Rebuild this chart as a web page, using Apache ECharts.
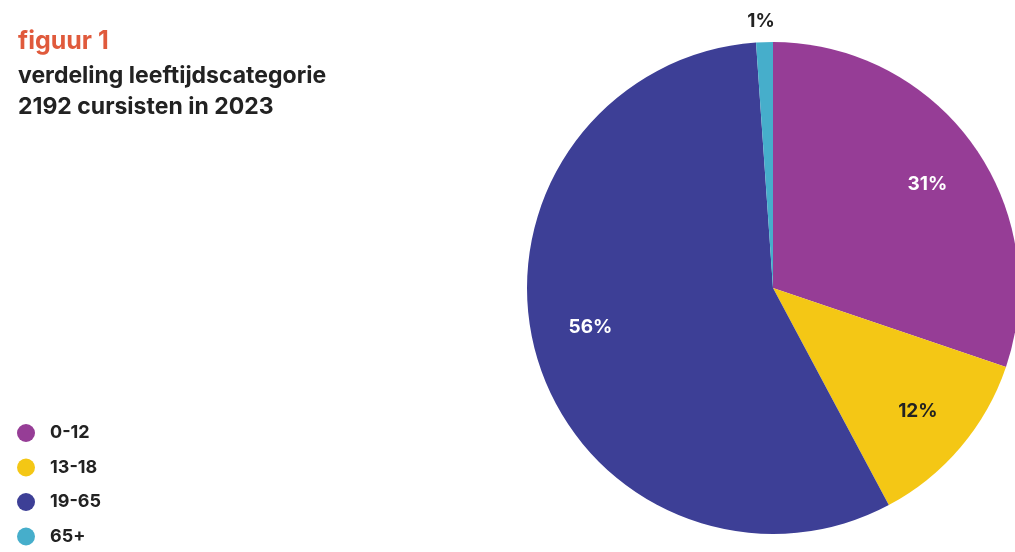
<!DOCTYPE html>
<html>
<head>
<meta charset="utf-8">
<script src="https://cdn.jsdelivr.net/npm/echarts@6/dist/echarts.min.js"></script>
<style>
html,body{margin:0;padding:0;background:#fff;}
#chart{width:1015px;height:552px;}
</style>
</head>
<body>
<div id="chart"></div>
<script>
const categories = ['0-12', '13-18', '19-65', '65+'];
const shares = [30.2, 12.0, 56.7, 1.1];
const shareLabels = ['31%', '12%', '56%', '1%'];
const colors = ['#963d96', '#f4c715', '#3d3f96', '#46aecb'];
const labelColors = ['#ffffff', '#222222', '#ffffff', '#222222'];

const FONT = 'Inter, "Noto Sans", sans-serif';

const chart = echarts.init(document.getElementById('chart'));

const pieData = categories.map((c, i) => ({
  name: c,
  value: shares[i],
  itemStyle: { color: colors[i] }
}));

// small vertical nudges of two inside labels (style only):
// an empty line above/below the text shifts it by half a line height
const labelNudge = {
  '0-12': { before: true, lineHeight: 14 },
  '19-65': { before: false, lineHeight: 26 }
};

const labelData = categories.map((c, i) => {
  const item = {
    name: c,
    value: shares[i],
    label: { color: labelColors[i], formatter: shareLabels[i] }
  };
  const n = labelNudge[c];
  if (n) {
    item.label.formatter = n.before ? '\n' + shareLabels[i] : shareLabels[i] + '\n';
    item.label.lineHeight = n.lineHeight;
  }
  if (shares[i] < 5) {
    item.label.position = 'outside';
    item.label.distanceToLabelLine = -11;
    item.labelLine = { show: false };
  }
  return item;
});

chart.setOption({
  animation: false,
  title: {
    left: 13,
    top: 24,
    text: 'figuur 1',
    textStyle: { color: '#e05a3c', fontSize: 25, fontWeight: 700, fontFamily: FONT },
    subtext: 'verdeling leeftijdscategorie\n2192 cursisten in 2023',
    subtextStyle: { color: '#222222', fontSize: 23, fontWeight: 700, fontFamily: FONT, lineHeight: 31 },
    itemGap: 7
  },
  legend: {
    orient: 'vertical',
    left: 12,
    top: 419,
    icon: 'circle',
    itemWidth: 18,
    itemHeight: 18,
    itemGap: 16.5,
    selectedMode: false,
    data: categories,
    textStyle: { color: '#222222', fontSize: 18, fontWeight: 700, fontFamily: FONT, padding: [0, 0, 0, 10] }
  },
  series: [
    {
      type: 'pie',
      center: [773, 288],
      radius: [0, 246],
      startAngle: 90,
      clockwise: true,
      silent: true,
      label: { show: false },
      labelLine: { show: false },
      itemStyle: { borderWidth: 0 },
      data: pieData
    },
    {
      type: 'pie',
      center: [773, 288],
      radius: [128, 246],
      startAngle: 90,
      clockwise: true,
      silent: true,
      itemStyle: { color: 'rgba(0,0,0,0)', borderWidth: 0 },
      label: {
        show: true,
        position: 'inside',
        fontSize: 19,
        fontWeight: 700,
        fontFamily: FONT
      },
      labelLine: { show: false, length: 21, length2: 0 },
      data: labelData
    }
  ]
});
</script>
</body>
</html>
